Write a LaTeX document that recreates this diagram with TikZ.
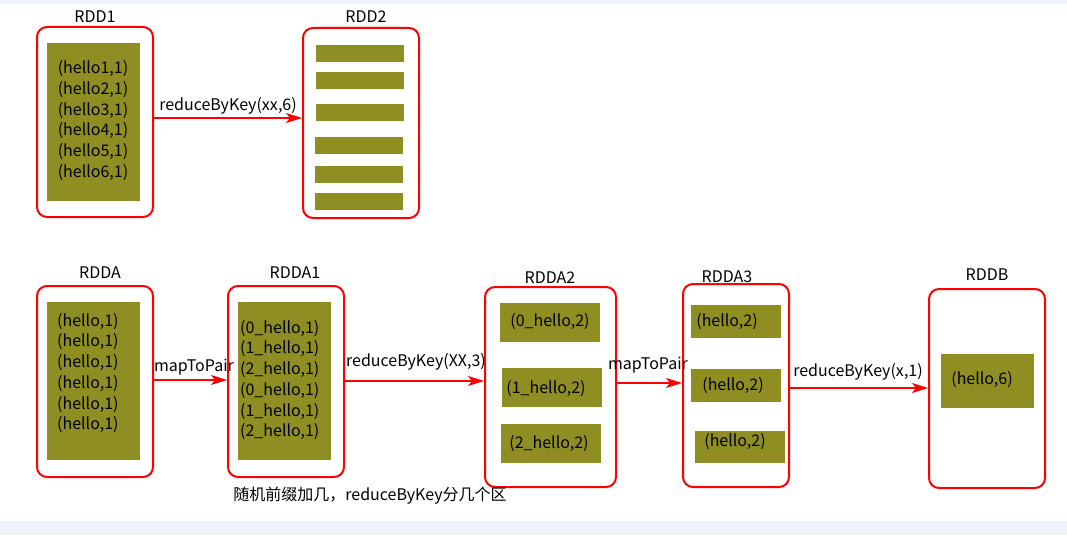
\documentclass[tikz,border=0pt]{standalone}
\usepackage{fontspec}
\setmainfont{Noto Sans CJK SC}
\usetikzlibrary{arrows.meta}
\definecolor{olivfill}{RGB}{142,142,34}
\definecolor{bandcol}{RGB}{238,242,249}
\begin{document}
\begin{tikzpicture}[x=1pt,y=-1pt,
  font=\fontsize{16}{18}\selectfont,
  rddbox/.style={draw=red, line width=2pt, rounded corners=10pt, inner sep=0pt},
  fillbox/.style={fill=olivfill, inner sep=0pt},
  lines/.style={align=#1, inner sep=0pt, font=\fontsize{16}{20.7}\selectfont},
  arr/.style={draw=red, line width=1.6pt, -{Stealth[length=16pt,width=10pt,inset=4pt]}},
  lbl/.style={inner sep=0pt}]
\useasboundingbox (0,0) rectangle (1067,535);
\fill[bandcol] (0,0) rectangle (1067,4);
\fill[bandcol] (0,521) rectangle (1067,535);

% ---------- top row ----------
\node[rddbox, minimum width=116pt, minimum height=190pt] (rdd1) at (95,122) {};
\node[fillbox, minimum width=93pt, minimum height=158pt] (rdd1in) at (93.5,122) {};
\node[lines=center] (rdd1txt) at (93,120.5) {(hello1,1)\\(hello2,1)\\(hello3,1)\\(hello4,1)\\(hello5,1)\\(hello6,1)};
\node[lbl] (rdd1l) at (95,17) {RDD1};

\node[rddbox, minimum width=116pt, minimum height=190pt] (rdd2) at (361,123) {};
\node[lbl] (rdd2l) at (366,17) {RDD2};
\node[fillbox, minimum width=88pt, minimum height=17pt] (b1) at (360,53.5) {};
\node[fillbox, minimum width=88pt, minimum height=17pt] (b2) at (360,80.5) {};
\node[fillbox, minimum width=88pt, minimum height=17pt] (b3) at (360,112.5) {};
\node[fillbox, minimum width=88pt, minimum height=17pt] (b4) at (359,145.5) {};
\node[fillbox, minimum width=88pt, minimum height=17pt] (b5) at (359,174.5) {};
\node[fillbox, minimum width=88pt, minimum height=17pt] (b6) at (359,201.5) {};

\draw[arr] (rdd1.east |- 0,118) -- (rdd2.west |- 0,118);
\node[lbl] (e1) at (228,106) {reduceByKey(xx,6)};

% ---------- bottom row ----------
\node[rddbox, minimum width=116pt, minimum height=191pt] (rdda) at (95,381.5) {};
\node[fillbox, minimum width=93pt, minimum height=158pt] (rddain) at (93.5,381) {};
\node[lines=left, anchor=west] (rddatxt) at (57,373) {(hello,1)\\(hello,1)\\(hello,1)\\(hello,1)\\(hello,1)\\(hello,1)};
\node[lbl] (rddal) at (100,273) {RDDA};

\node[rddbox, minimum width=116pt, minimum height=191pt] (rdda1) at (286,381.5) {};
\node[fillbox, minimum width=93pt, minimum height=158pt] (rdda1in) at (284.5,381) {};
\node[lines=left, anchor=west] (rdda1txt) at (240,380) {(0\_hello,1)\\(1\_hello,1)\\(2\_hello,1)\\(0\_hello,1)\\(1\_hello,1)\\(2\_hello,1)};
\node[lbl] (rdda1l) at (295,273) {RDDA1};

\node[rddbox, minimum width=131pt, minimum height=200pt] (rdda2) at (550.5,387) {};
\node[lbl] (rdda2l) at (550,278) {RDDA2};
\node[fillbox, minimum width=100pt, minimum height=39pt] (p0) at (550,322.5) {};
\node[lbl] (p0t) at (550,322) {(0\_hello,2)};
\node[fillbox, minimum width=100pt, minimum height=39pt] (p1) at (552,387.5) {};
\node[lbl] (p1t) at (546,389) {(1\_hello,2)};
\node[fillbox, minimum width=100pt, minimum height=39pt] (p2) at (551,443.5) {};
\node[lbl] (p2t) at (549,444) {(2\_hello,2)};

\node[rddbox, minimum width=106pt, minimum height=203pt] (rdda3) at (736,385.5) {};
\node[lbl] (rdda3l) at (727,277) {RDDA3};
\node[fillbox, minimum width=90pt, minimum height=33pt] (q0) at (736,321.5) {};
\node[lbl] (q0t) at (727,322) {(hello,2)};
\node[fillbox, minimum width=90pt, minimum height=33pt] (q1) at (736,385.5) {};
\node[lbl] (q1t) at (733,386) {(hello,2)};
\node[fillbox, minimum width=90pt, minimum height=32pt] (q2) at (740,447) {};
\node[lbl] (q2t) at (735,442) {(hello,2)};

\node[rddbox, minimum width=116pt, minimum height=199pt] (rddb) at (987,388.5) {};
\node[lbl] (rddbl) at (987,275) {RDDB};
\node[fillbox, minimum width=93pt, minimum height=54pt] (r0) at (987.5,381) {};
\node[lbl] (r0t) at (982,380) {(hello,6)};

\draw[arr] (rdda.east |- 0,380) -- (rdda1.west |- 0,380);
\node[lbl] (e2) at (194,367) {mapToPair};
\draw[arr] (rdda1.east |- 0,381) -- (rdda2.west |- 0,381);
\node[lbl] (e3) at (416,362) {reduceByKey(XX,3)};
\draw[arr] (rdda2.east |- 0,383) -- (rdda3.west |- 0,383);
\node[lbl] (e4) at (648,365) {mapToPair};
\draw[arr] (rdda3.east |- 0,388) -- (rddb.west |- 0,388);
\node[lbl] (e5) at (858,372) {reduceByKey(x,1)};

\node[lbl] (cap) at (370,496) {随机前缀加几，reduceByKey分几个区};
\end{tikzpicture}
\end{document}
